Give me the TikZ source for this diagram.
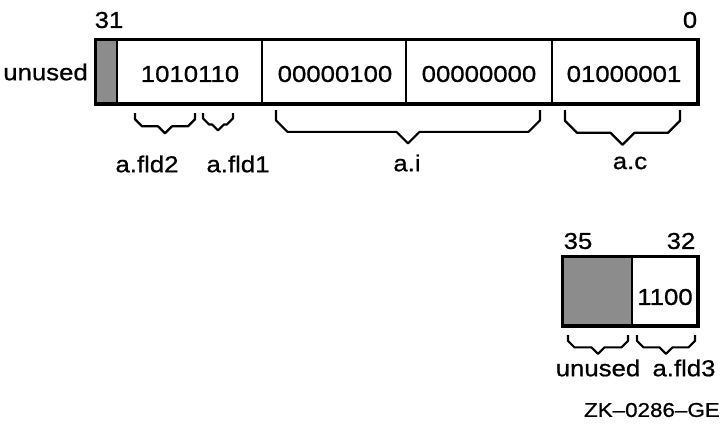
\documentclass[tikz,border=0pt]{standalone}
\usepackage{fontspec}
\setmainfont{Liberation Sans}[FakeStretch=1.12,FakeBold=0.8]
\usepackage{tikz}
\usetikzlibrary{calc}
% angular brace under a field: (left:right:top:size)
\def\bitbrace(#1:#2:#3:#4){\draw[brace] (#1,#3) -- ++(0,{0.9*#4}) -- ++(#4,#4) -- ({(#1+#2)/2-#4},{#3+1.9*#4}) -- ({(#1+#2)/2},{#3+2.9*#4}) -- ({(#1+#2)/2+#4},{#3+1.9*#4}) -- ({#2-#4},{#3+1.9*#4}) -- ++(#4,-#4) -- (#2,#3);}

\begin{document}
\begin{tikzpicture}[x=1pt,y=-1pt,
    lbl/.style={font=\fontsize{23}{26}\selectfont, inner sep=0pt},
    field/.style={draw, line width=2pt, inner sep=0pt, minimum height=63pt},
    unusedbits/.style={field, fill=black!45},
    brace/.style={line width=2.2pt, line join=round}]
		%%%%% START %%%%%
		\useasboundingbox (0,0) rectangle (724,431);
		
		% longword, bits 31..0
		\node[unusedbits, minimum width=21pt] (u1) at (106.5,71.5) {};
		\node[field, minimum width=145pt] (fld) at (189.5,71.5) {};
		\node[field, minimum width=144pt] (ihi) at (334,71.5) {};
		\node[field, minimum width=146pt] (ilo) at (479,71.5) {};
		\node[field, minimum width=145pt] (c) at (624.5,71.5) {};
		\draw[line width=3pt] (u1.north west) rectangle (c.south east);
		
		\node[lbl] (t31) at (109,20) {31};
		\node[lbl] (t0) at (690,20) {0};
		\node[lbl, anchor=east] (tunused) at (88,72) {unused};
		\node[lbl] (vfld) at (190,74) {1010110};
		\node[lbl] (vihi) at (335,74) {00000100};
		\node[lbl] (vilo) at (479,74) {00000000};
		\node[lbl] (vc) at (624,74) {01000001};
		
		\bitbrace(135:195:113:7);
		\bitbrace(203:233:113:6);
		\bitbrace(276:540:110:11.5);
		\bitbrace(565:680:110:12);
		
		\node[lbl] (nfld2) at (147,164) {a.fld2};
		\node[lbl] (nfld1) at (238,164) {a.fld1};
		\node[lbl] (ni) at (407,163) {a.i};
		\node[lbl] (nc) at (630,163) {a.c};
		
		% extra nibble, bits 35..32
		\node[unusedbits, minimum width=69pt, minimum height=68pt] (u2) at (597.5,291) {};
		\node[field, minimum width=65pt, minimum height=68pt] (f3) at (664.5,291) {};
		\draw[line width=3pt] (u2.north west) rectangle (f3.south east);
		
		\node[lbl] (t35) at (578,241) {35};
		\node[lbl] (t32) at (681,241) {32};
		\node[lbl] (vf3) at (665,297) {1100};
		
		\bitbrace(568:628:335:6.5);
		\bitbrace(637:695:335:6.5);
		
		\node[lbl] (nunused) at (598,368) {unused};
		\node[lbl] (nfld3) at (684,368) {a.fld3};
		
		\node[lbl, font=\fontsize{20}{23}\selectfont, anchor=east] (tag) at (720,410) {ZK\textendash0286\textendash GE};
		
		%%%%% END %%%%%
\end{tikzpicture}
\end{document}
